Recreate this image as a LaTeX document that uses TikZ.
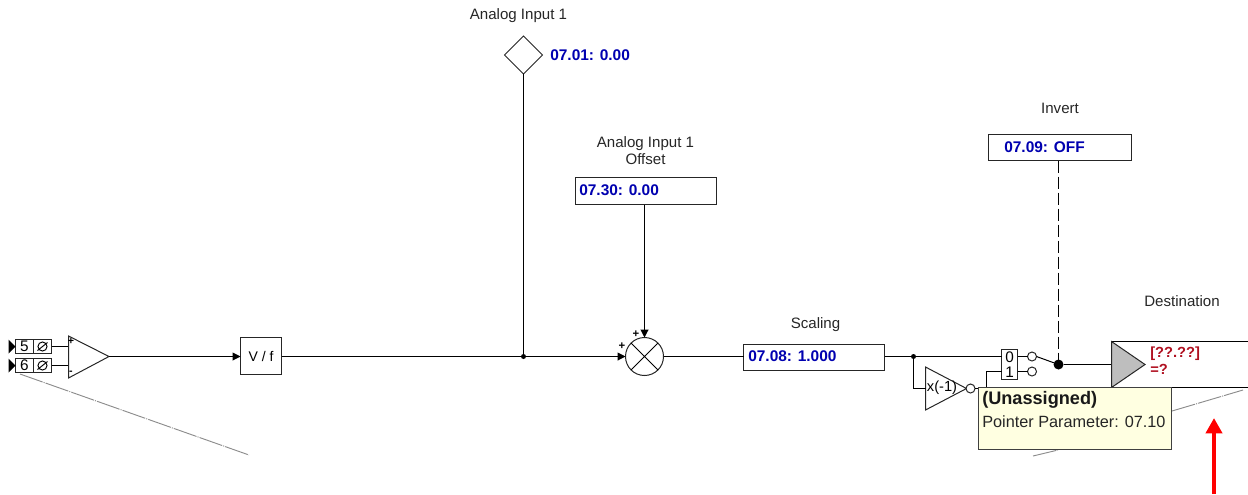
\documentclass[tikz,border=0pt]{standalone}
\usepackage{fontspec}
\setmainfont{Liberation Sans}
\usetikzlibrary{arrows.meta,shapes.geometric}
\definecolor{paramblue}{HTML}{0000B0}
\definecolor{destred}{HTML}{B01020}
\definecolor{tipfill}{HTML}{FFFFE1}
\definecolor{shade}{HTML}{BEBEBE}
\definecolor{ghost}{HTML}{8C8C8C}
\tikzset{
  wire/.style={draw=black,line width=0.75pt},
  inwire/.style={wire,-{Triangle[length=6pt,width=6pt]}},
  boxy/.style={draw=black!85,line width=0.75pt,fill=white,inner sep=0pt,outer sep=0pt,rectangle},
  parambox/.style={boxy,minimum width=141*0.75pt,minimum height=26*0.75pt},
  paramtext/.style={text=paramblue,font=\fontsize{11.6}{13}\selectfont\bfseries,inner sep=0pt,anchor=west},
  caption/.style={font=\fontsize{11.3}{12.6}\selectfont,text=black!85,inner sep=0pt,align=center},
  term/.style={boxy,minimum width=18*0.75pt,minimum height=14*0.75pt,font=\fontsize{11.5}{12}\selectfont},
  dotj/.style={circle,fill=black,inner sep=0pt,outer sep=0pt,minimum size=#1*0.75pt},
  bubble/.style={circle,draw=black!85,fill=white,line width=0.75pt,inner sep=0pt,outer sep=0pt,minimum size=9*0.75pt},
  ghostline/.style={draw=ghost,line width=0.7pt,dash pattern=on 18pt off 0.8pt on 0.8pt off 0.8pt},
}
\begin{document}
\begin{tikzpicture}[x=0.75pt,y=-0.75pt]
\useasboundingbox (0,0) rectangle (1248,494);
% ghost diagonals
\coordinate (gl1) at (20,374); \coordinate (gl2) at (249,455);
\coordinate (gr1) at (1172,411); \coordinate (gr2) at (1243,390);
\coordinate (gb1) at (1033,456); \coordinate (gb2) at (1058,450);
\draw[ghostline] (gl1) -- (gl2);
\draw[ghostline] (gr1) -- (gr2);
\draw[ghostline] (gb1) -- (gb2);
% terminals
\node[term] (t5) at (24.5,346.5) {5};
\node[term] (t5s) at (42.5,346.5) {};
\node[term] (t6) at (24.5,365.5) {6};
\node[term] (t6s) at (42.5,365.5) {};
\draw[wire,line width=0.7pt] (t5s) circle[radius=3.4pt] ([shift={(-5,4)}]t5s.center) -- ([shift={(5,-4)}]t5s.center);
\draw[wire,line width=0.7pt] (t6s) circle[radius=3.4pt] ([shift={(-5,4)}]t6s.center) -- ([shift={(5,-4)}]t6s.center);
\fill (t5.west) -- ([shift={(-7,-7)}]t5.west) -- ([shift={(-7,7)}]t5.west) -- cycle;
\fill (t6.west) -- ([shift={(-7,-7)}]t6.west) -- ([shift={(-7,7)}]t6.west) -- cycle;
% op amp
\coordinate (ampa) at (68.5,336); \coordinate (ampb) at (68.5,378); \coordinate (ampo) at (109,356.5);
\draw[wire] (t5s.east) -- (t5s.east -| ampa);
\draw[wire] (t6s.east) -- (t6s.east -| ampa);
\draw[wire,draw=black!85] (ampa) -- (ampo) -- (ampb) -- cycle;
\node[font=\fontsize{8}{8}\selectfont\bfseries,inner sep=0pt] (ampplus) at (71,341) {+};
\node[font=\fontsize{8}{8}\selectfont\bfseries,inner sep=0pt] (ampminus) at (71,373) {-};
% V/f
\node[boxy,minimum width=41*0.75pt,minimum height=37*0.75pt,font=\fontsize{10.5}{12}\selectfont] (vf) at (261,356) {V / f};
\draw[inwire] (ampo) -- (ampo -| vf.west);
% sum
\node[boxy,circle,minimum size=38*0.75pt] (sum) at (644.5,356.5) {};
\draw[wire,line width=0.6pt] (sum.45) -- (sum.225) (sum.135) -- (sum.315);
\node[font=\fontsize{8.5}{9}\selectfont\bfseries,inner sep=0pt] (sumplusa) at (622,346) {+};
\node[font=\fontsize{8.5}{9}\selectfont\bfseries,inner sep=0pt] (sumplusb) at (636,334) {+};
\draw[inwire] (sum.west -| vf.east) -- (sum.west);
% analog input
\node[caption] (ailabel) at (518.5,15.5) {Analog Input 1};
\node[boxy,diamond,aspect=1,minimum size=38*0.75pt] (ai) at (523.5,55) {};
\node[paramtext] (aitext) at (550,55) {07.01: 0.00};
\node[dotj=5] (aij) at (523.5,356.5) {};
\draw[wire] (ai.south) -- (aij);
% offset
\node[caption] (offlabel) at (645.5,150.5) {Analog Input 1\\Offset};
\node[parambox,minimum height=27*0.75pt] (off) at (646,191) {};
\node[paramtext] (offtext) at (579,190.5) {07.30: 0.00};
\draw[inwire] (off.south -| sum.north) -- (sum.north);
% scaling
\node[caption] (scalelabel) at (815.5,325) {Scaling};
\node[parambox] (scale) at (814,357.5) {};
\node[paramtext] (scaletext) at (748,356.5) {07.08: 1.000};
\draw[wire] (sum.east) -- (sum.east -| scale.west);
% invert
\node[caption] (invlabel) at (1060,108.5) {Invert};
\node[parambox,minimum width=143*0.75pt] (inv) at (1060,147.5) {};
\node[paramtext] (invtext) at (1004,147) {07.09: OFF};
% selector
\node[boxy,minimum width=16*0.75pt,minimum height=30*0.75pt] (sel) at (1009.5,364.5) {};
\node[inner sep=0pt,font=\fontsize{11.5}{12}\selectfont] (sel0) at (1009.5,357) {0};
\node[inner sep=0pt,font=\fontsize{11.5}{12}\selectfont] (sel1) at (1009.5,372) {1};
\coordinate (sela) at (1001.5,356.5); \coordinate (selb) at (1001.5,371.5);
\coordinate (selar) at (1017.5,356.5); \coordinate (selbr) at (1017.5,371.5);
\node[dotj=5] (sj) at (913.5,356.5) {};
\draw[wire] (sj -| scale.east) -- (sj) -- (sela);
\node[bubble] (ba) at (1032,356.5) {};
\node[bubble] (bb) at (1032,371.5) {};
\draw[wire] (selar) -- (ba.west);
\draw[wire] (selbr) -- (bb.west);
\node[dotj=10] (swj) at (1058.5,364.5) {};
\draw[wire] (ba.east) -- (swj);
\draw[wire,dash pattern=on 9pt off 3pt] (inv.south -| swj) -- (swj);
% inverter
\coordinate (ia) at (925.5,367); \coordinate (ib) at (925.5,410); \coordinate (io) at (966.5,388.5);
\coordinate (ii) at (925.5,388.5);
\draw[wire,draw=black!85] (ia) -- (io) -- (ib) -- cycle;
\node[inner sep=0pt,font=\fontsize{11}{12}\selectfont] (ilabel) at (942,388) {x(-1)};
\draw[wire] (sj) |- (ii);
\node[bubble] (ib2) at (970.5,388.5) {};
\coordinate (ifold) at (986.5,388.5);
\draw[wire] (ib2.east) -- (ifold) |- (selb);
% destination
\coordinate (dt) at (1111.5,341.5); \coordinate (db) at (1111.5,387.5); \coordinate (dm) at (1111.5,364.5); \coordinate (do) at (1145,364.5);
\coordinate (dtr) at (1248,341.5); \coordinate (dbr) at (1248,387.5);
\draw[wire] (swj) -- (dm);
\draw[wire] (dtr) -- (dt) -- (db) -- (dbr);
\draw[draw=black!85,line width=0.75pt,fill=shade] (dt) -- (do) -- (db) -- cycle;
\node[caption] (destlabel) at (1182,301) {Destination};
\node[inner sep=0pt,anchor=west,text=destred,font=\fontsize{11}{12}\selectfont\bfseries] (dest1) at (1150,354) {[??.??]};
\node[inner sep=0pt,anchor=west,text=destred,font=\fontsize{11}{12}\selectfont\bfseries] (dest2) at (1150,369) {=?};
% tooltip
\node[draw=black!75,line width=0.75pt,fill=tipfill,anchor=north west,minimum width=193*0.75pt,minimum height=62*0.75pt,inner sep=0pt,outer sep=0pt] (tip) at (978.5,387.5) {};
\node[inner sep=0pt,anchor=west,font=\fontsize{13.6}{15}\selectfont\bfseries,text=black!90] (tip1) at (982,399.5) {(Unassigned)};
\node[inner sep=0pt,anchor=west,font=\fontsize{12.2}{14}\selectfont,text=black!85] (tip2) at (982,422) {Pointer Parameter: 07.10};
% red arrow
\coordinate (ra) at (1214,494); \coordinate (rb) at (1214,418);
\draw[draw=red,line width=3.4pt,-{Triangle[length=11.5pt,width=12pt]}] (ra) -- (rb);
\end{tikzpicture}
\end{document}
